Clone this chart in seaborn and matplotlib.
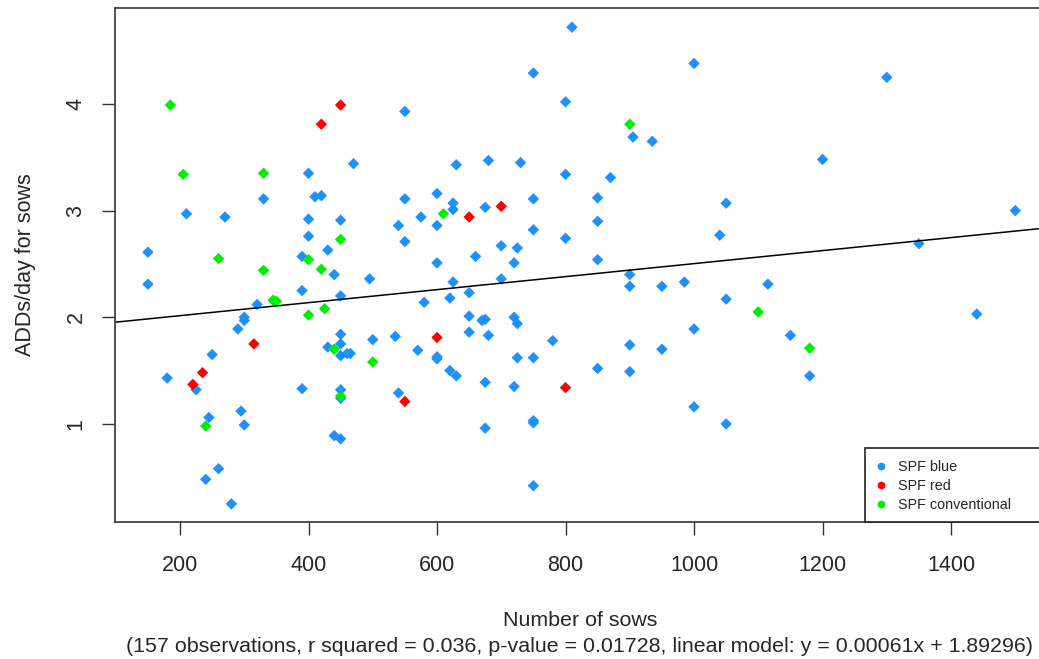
#%% ADDs per day vs herd size, by SPF status
import matplotlib
matplotlib.use('Agg')
import matplotlib.pyplot as plt
from matplotlib.lines import Line2D
from matplotlib.patches import Rectangle
import seaborn as sns
import pandas as pd

# SPF blue herds
blue_x = [550, 470, 400, 410, 420, 330, 550, 210, 270, 400, 450, 540, 575, 400, 550, 150, 430, 390,
          440, 495, 150, 390, 450, 580, 320, 300, 300, 290, 450, 450, 500, 535, 430, 450, 460, 465,
          570, 250, 180, 225, 390, 450, 450, 540, 295, 245, 300, 440, 450, 260, 240, 280,
          810, 1000, 750, 800, 905, 935, 630, 680, 730, 800, 870, 600, 625, 625, 675, 750, 850, 600,
          750, 850, 1050, 1040, 800, 700, 725, 660, 600, 720, 850,
          900, 900, 950, 985, 1050, 625, 700, 650, 620, 650, 670, 675, 720, 725, 650, 680, 780, 1000,
          900, 950, 600, 600, 725, 750, 620, 630, 850, 900, 675, 720, 1000, 1050, 750, 750, 675, 750,
          1300, 1200, 1500, 1350, 1115, 1150, 1180, 1440]
blue_y = [3.93, 3.44, 3.35, 3.13, 3.14, 3.11, 3.11, 2.97, 2.94, 2.92, 2.91, 2.86, 2.94, 2.76, 2.71, 2.61, 2.63, 2.57,
          2.40, 2.36, 2.31, 2.25, 2.20, 2.14, 2.12, 2.00, 1.97, 1.89, 1.84, 1.75, 1.79, 1.82, 1.72, 1.64, 1.66, 1.66,
          1.69, 1.65, 1.43, 1.32, 1.33, 1.32, 1.24, 1.29, 1.12, 1.06, 0.99, 0.89, 0.86, 0.58, 0.48, 0.25,
          4.72, 4.38, 4.29, 4.02, 3.69, 3.65, 3.43, 3.47, 3.45, 3.34, 3.31, 3.16, 3.07, 3.01, 3.03, 3.11, 3.12, 2.86,
          2.82, 2.90, 3.07, 2.77, 2.74, 2.67, 2.65, 2.57, 2.51, 2.51, 2.54,
          2.40, 2.29, 2.29, 2.33, 2.17, 2.33, 2.36, 2.23, 2.18, 2.01, 1.97, 1.98, 2.00, 1.94, 1.86, 1.83, 1.78, 1.89,
          1.74, 1.70, 1.63, 1.61, 1.62, 1.62, 1.50, 1.45, 1.52, 1.49, 1.39, 1.35, 1.16, 1.00, 1.03, 1.01, 0.96, 0.42,
          4.25, 3.48, 3.00, 2.69, 2.31, 1.83, 1.45, 2.03]

# SPF red herds
red_x = [450, 420, 315, 235, 220, 550, 650, 700, 600, 800]
red_y = [3.99, 3.81, 1.75, 1.48, 1.37, 1.21, 2.94, 3.04, 1.81, 1.34]

# SPF conventional herds
green_x = [185, 205, 330, 450, 260, 400, 330, 420, 345, 350, 400, 425, 440, 500, 450, 240, 900, 610, 1100, 1180]
green_y = [3.99, 3.34, 3.35, 2.73, 2.55, 2.54, 2.44, 2.45, 2.16, 2.15, 2.02, 2.08, 1.70, 1.58, 1.26, 0.98, 3.81, 2.97, 2.05, 1.71]

groups = ['SPF blue', 'SPF red', 'SPF conventional']
colors = {'SPF blue': '#1E90FF', 'SPF red': '#FF0000', 'SPF conventional': '#00EE00'}

slope, intercept = 0.00061, 1.89296
subtitle = '(157 observations, r squared = 0.036, p-value = 0.01728, linear model: y = 0.00061x + 1.89296)'

df = pd.concat([
    pd.DataFrame({'sows': blue_x, 'adds': blue_y, 'group': 'SPF blue'}),
    pd.DataFrame({'sows': red_x, 'adds': red_y, 'group': 'SPF red'}),
    pd.DataFrame({'sows': green_x, 'adds': green_y, 'group': 'SPF conventional'}),
])

sns.set_style('ticks')
plt.rcParams['font.family'] = ['Liberation Sans', 'DejaVu Sans']

W, H = 1039, 659
fig = plt.figure(figsize=(W / 100, H / 100), dpi=100)
# plot box runs a little past the right edge of the picture, like the original export
ax = fig.add_axes([115 / W, 1 - 522 / H, 930 / W, 514 / H])

sns.scatterplot(data=df, x='sows', y='adds', hue='group', palette=colors, marker='D',
                s=34, linewidth=0, legend=False, ax=ax)
ax.axline((0, intercept), slope=slope, color='black', lw=1.1)

ax.set_xlim(98.8, 1546.3)
ax.set_ylim(0.08, 4.9)
ax.set_xticks([200, 400, 600, 800, 1000, 1200, 1400])
ax.set_yticks([1, 2, 3, 4])
ax.tick_params(axis='both', length=9.5, width=1, color='#333333', labelsize=15.5)
ax.tick_params(axis='x', pad=14.5)
ax.tick_params(axis='y', pad=11)
plt.setp(ax.get_yticklabels(), rotation=90, va='center')
for sp in ax.spines.values():
    sp.set_color('#333333')
    sp.set_linewidth(1.2)

ax.set_ylabel('ADDs/day for sows', fontsize=15.5, labelpad=21)
ax.set_xlabel('Number of sows\n' + subtitle, fontsize=15.4, labelpad=25, linespacing=1.45)

# legend box (bottom right, running off the picture like the plot box)
box = Rectangle((865 / W, 1 - 522 / H), 200 / W, 74 / H, transform=fig.transFigure,
                facecolor='white', edgecolor='#222222', lw=1.2, zorder=4, clip_on=False)
ax.add_patch(box)
handles = [Line2D([], [], marker='o', ls='', color=colors[g], markersize=4.5) for g in groups]
leg = ax.legend(handles, groups, loc='upper left', bbox_to_anchor=(875 / W, 1 - 460 / H),
                bbox_transform=fig.transFigure, frameon=False, borderaxespad=0, borderpad=0,
                fontsize=10.4, handlelength=0.8, handletextpad=0.8, labelspacing=0.35)
leg.set_zorder(5)

fig.savefig('out.png', dpi=100)
